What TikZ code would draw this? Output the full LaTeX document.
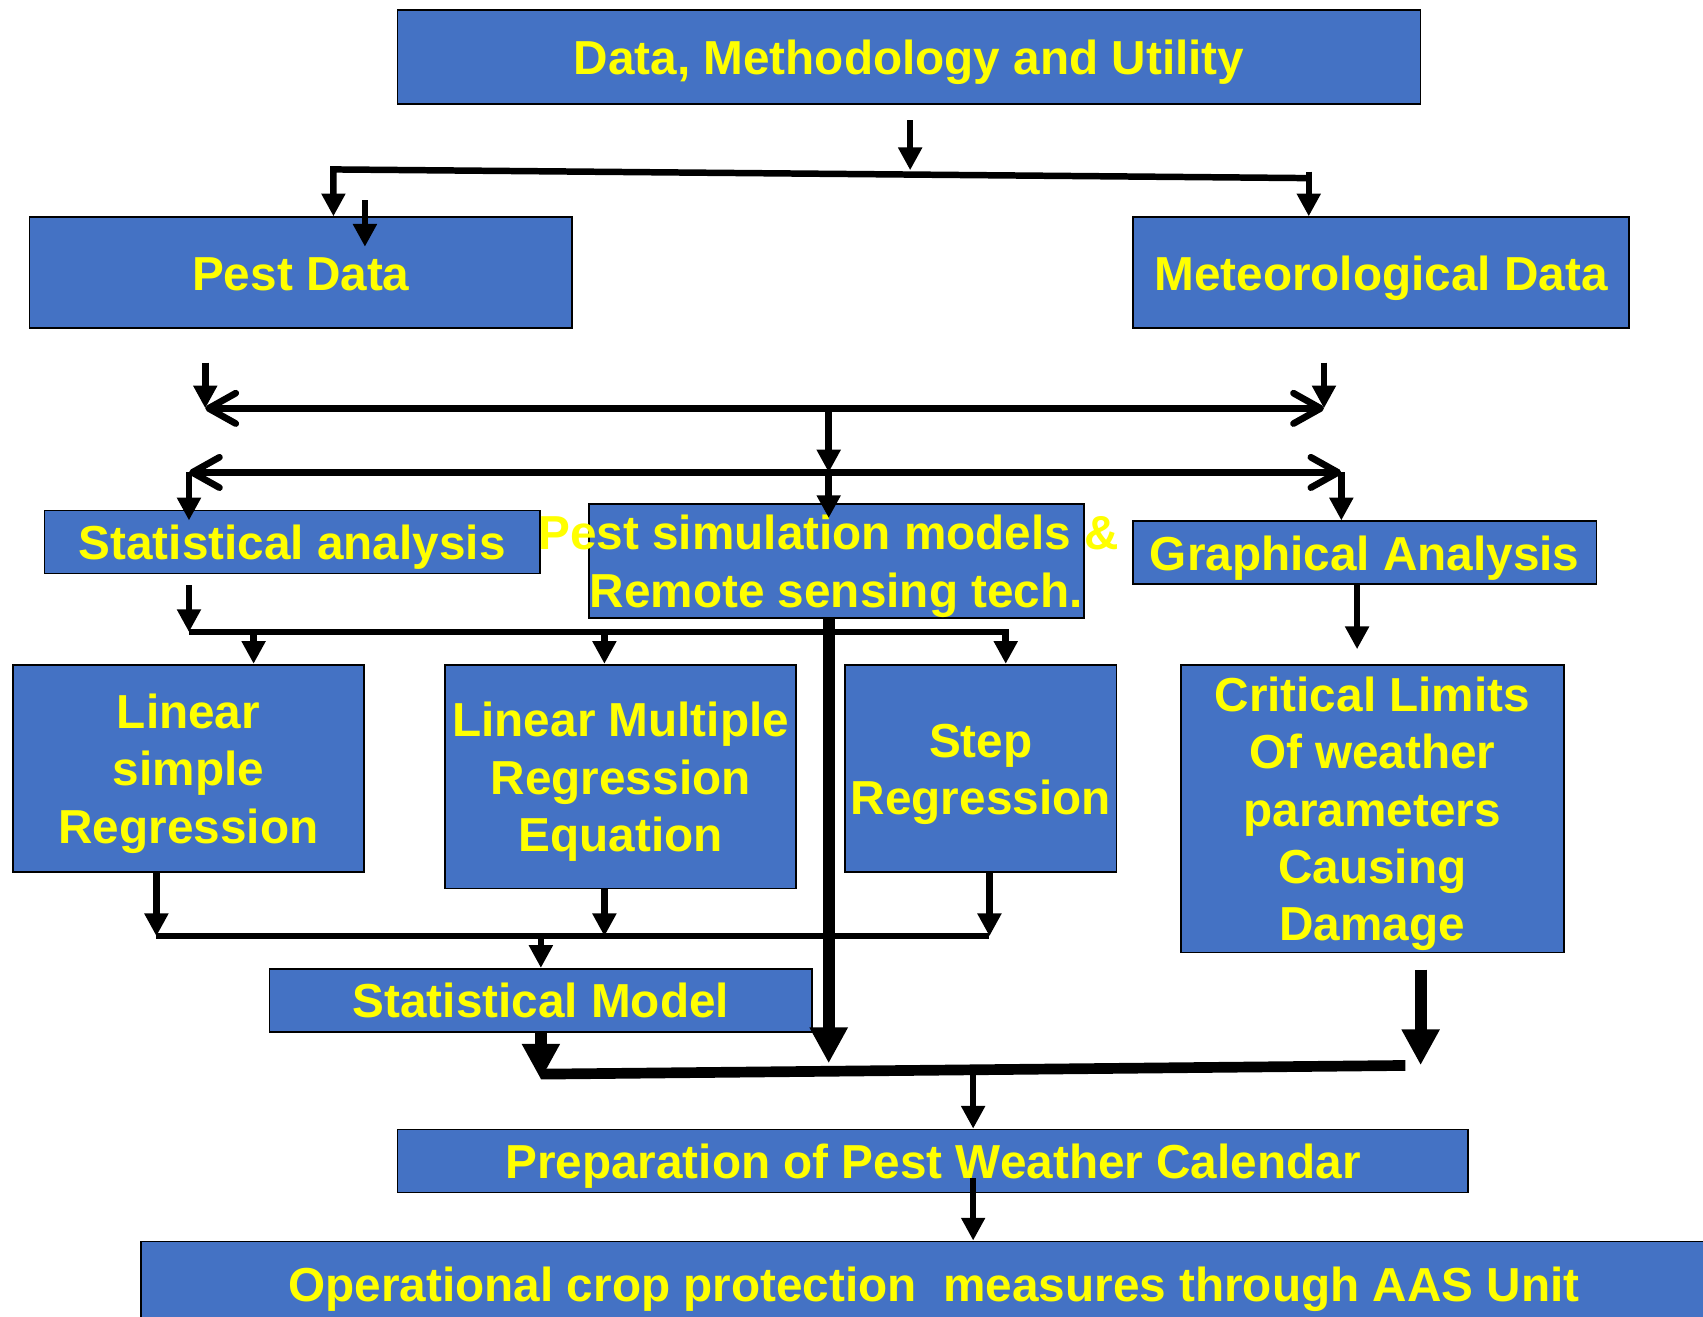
\documentclass[tikz,border=0pt]{standalone}
\usepackage{fontspec}
\setmainfont{Liberation Sans}
\usetikzlibrary{arrows.meta, calc}
\definecolor{boxblue}{HTML}{4472C4}
\definecolor{boxtext}{HTML}{FFFF00}
\newcommand{\boxlines}[1]{\raisebox{-3.2pt}[\height][\depth]{\begin{tabular}{@{}c@{}}#1\end{tabular}}}

\begin{document}
\begin{tikzpicture}[
  x=0.02cm, y=-0.02cm,
  every node/.style={font=\bfseries\fontsize{25}{30}\selectfont},
  blk/.style={
    rectangle, draw=black, line width=0.9pt, fill=boxblue,
    text=boxtext, align=center, inner sep=0pt,
  },
  wire/.style={line width=3.4pt},
  edge/.style={-{Triangle[length=0.42cm,width=0.42cm]}, line width=3.4pt},
  fat/.style={-{Triangle[length=0.66cm,width=0.66cm]}, line width=6.2pt},
  both/.style={
    {Straight Barb[length=0.5cm,width=0.56cm,round]}-{Straight Barb[length=0.5cm,width=0.56cm,round]},
    line width=3.5pt,
  },
]
\path[use as bounding box, fill=white] (0,0) rectangle (1568,1212);

\node[blk, minimum width=18.84cm, minimum height=1.74cm] (head)    at (837,52.5)   {\boxlines{Data, Methodology and Utility}};
\node[blk, minimum width=10cm,    minimum height=2.04cm] (pest)    at (277,251)    {\boxlines{Pest Data}};
\node[blk, minimum width=9.14cm,  minimum height=2.04cm] (met)     at (1271.5,251) {\boxlines{Meteorological Data}};
\node[blk, minimum width=9.12cm,  minimum height=1.16cm] (stat)    at (269,499)    {\boxlines{Statistical analysis}};
\node[blk, minimum width=9.12cm,  minimum height=2.06cm] (sim)     at (770,516.5)  {\boxlines{\makebox[0pt]{\hspace*{-0.28cm}Pest simulation models \&}\\\makebox[0pt]{Remote sensing tech.}}};
\node[blk, minimum width=8.54cm,  minimum height=1.16cm] (graph)   at (1256.5,509) {\boxlines{Graphical Analysis}};
\node[blk, minimum width=6.46cm,  minimum height=3.82cm] (lsr)     at (173.5,707.5) {\boxlines{Linear\\simple\\Regression}};
\node[blk, minimum width=6.46cm,  minimum height=4.12cm] (lmr)     at (571.5,715)  {\boxlines{Linear Multiple\\Regression\\Equation}};
\node[blk, minimum width=5cm,     minimum height=3.82cm] (stepreg) at (903,707.5)  {\boxlines{Step\\Regression}};
\node[blk, minimum width=7.06cm,  minimum height=5.3cm]  (crit)    at (1263.5,744.5) {\boxlines{Critical Limits\\Of weather\\parameters\\Causing\\Damage}};
\node[blk, minimum width=10cm,    minimum height=1.16cm] (smodel)  at (498,921)    {\boxlines{Statistical Model}};
\node[blk, minimum width=19.72cm, minimum height=1.16cm] (prep)    at (859,1069)   {\boxlines{Preparation of Pest Weather Calendar}};
\node[blk, minimum width=29.2cm,  minimum height=1.58cm] (ops)     at (860,1182.5) {\boxlines{Operational crop protection\ \ measures through AAS Unit}};

\coordinate (fl)   at (307,156);
\coordinate (fr)   at (1205,164);
\coordinate (al)   at (189,376);
\coordinate (ar)   at (1219,376);
\coordinate (mid)  at (763,376);
\coordinate (bl)   at (174,435);
\coordinate (br)   at (1235,435);
\coordinate (fan)  at (174,582);
\coordinate (fanr) at (926,582);
\coordinate (ml)   at (144,862);
\coordinate (mr)   at (911,862);
\coordinate (jl)   at (498,989);
\coordinate (jr)   at (1294,981);
\coordinate (pj)   at (896,985);

\draw[edge] ($(head.south)+(1,14)$) -- ++(0,46);
\draw[edge] (fr) -- (fl) -- (fl |- pest.north);
\draw[edge] ($(fr)+(0,-6)$) -- (fr |- met.north);
\draw[edge] ($(pest.north)+(59,-15)$) -- ++(0,43);

\draw[edge] ($(pest.south -| al)+(0,31)$) -- (al);
\draw[edge] ($(met.south -| ar)+(0,31)$) -- (ar);
\draw[both] (al) -- (ar);
\draw[edge] (mid) -- (mid |- bl);
\draw[both] (bl) -- (br);
\draw[edge] (mid |- bl) -- ($(mid |- sim.north)+(0,14)$);
\draw[edge] (bl) -- ($(bl |- stat.north)+(0,10)$);
\draw[edge] (br) -- (br |- graph.north);
\draw[edge] ($(graph.south)+(-7,0)$) -- ++(0,59);

\draw[edge] ($(stat.south -| fan)+(0,10)$) -- (fan);
\draw[edge] (fan) -- (fanr) -- (fanr |- stepreg.north);
\foreach \n/\dx in {lsr/60, lmr/-15}
  \draw[edge] ($(fan -| \n.north)+(\dx,0)$) -- ($(\n.north)+(\dx,0)$);

\draw[fat] (sim.south -| mid) -- (mid |- 0,979);

\draw[wire] (ml) -- (mr);
\draw[edge] (lsr.south -| ml) -- (ml);
\draw[edge] ($(lmr.south)+(-15,0)$) -- ($(lmr.south |- ml)+(-15,0)$);
\draw[edge] (stepreg.south -| mr) -- (mr);
\draw[edge] (ml -| smodel.north) -- (smodel.north);

\draw[fat] (smodel.south) -- ($(jl)+(0,5)$);
\draw[line width=5.6pt] (jl) -- (jr);
\draw[fat] ($(crit.south)+(44.5,15)$) -- ++(0,88);
\draw[edge] (pj) -- (pj |- prep.north);
\draw[edge] ($(prep.south -| pj)+(0,-14)$) -- (pj |- ops.north);
\end{tikzpicture}
\end{document}
